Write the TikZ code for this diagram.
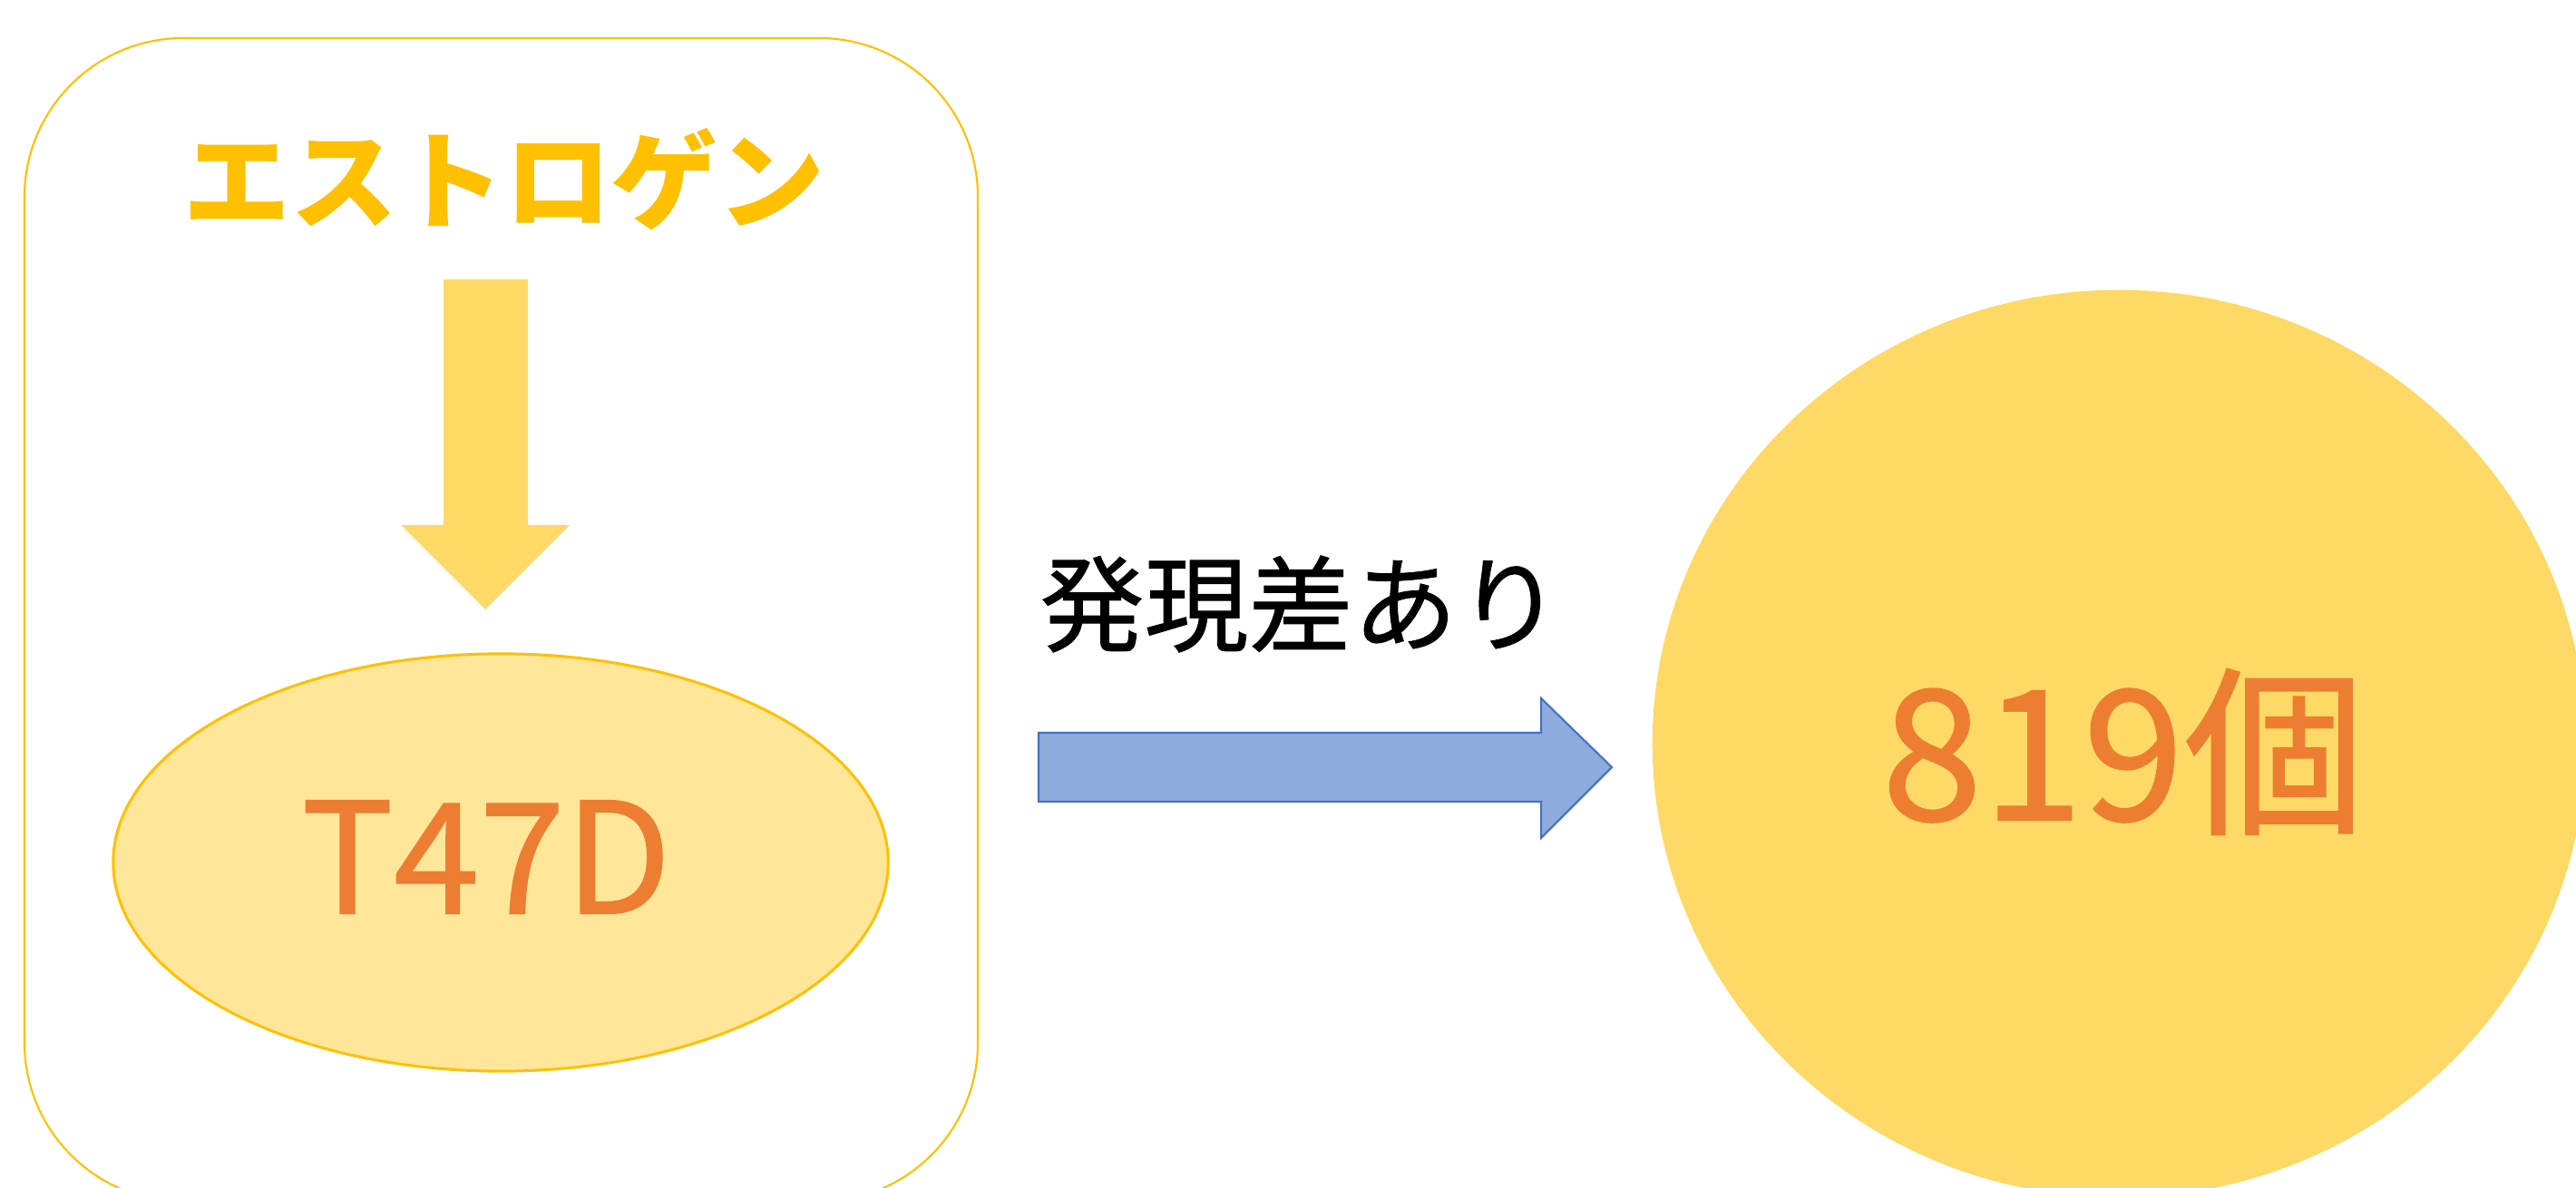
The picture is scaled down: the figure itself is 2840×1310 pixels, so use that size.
\documentclass[tikz,border=0pt]{standalone}
\usepackage{fontspec}
\usetikzlibrary{shapes.geometric}
\setmainfont{Noto Sans CJK JP}
\newfontfamily\medfont{Noto Sans CJK JP}[FakeBold=0.8]
\definecolor{gold}{HTML}{FFC000}
\definecolor{arrowyel}{HTML}{FFD966}
\definecolor{lightyel}{HTML}{FFE699}
\definecolor{orangetxt}{HTML}{ED7D31}
\definecolor{bluefill}{HTML}{8FAADC}
\definecolor{blueline}{HTML}{4472C4}
\tikzset{
  lbl/.style={inner sep=0pt, font=\medfont\fontsize{32.7}{36}\selectfont},
}
\begin{document}
\begin{tikzpicture}[x=0.01cm,y=-0.01cm]
\useasboundingbox (0,0) rectangle (2840,1310);
\clip (0,0) rectangle (2840,1310);
\fill[white] (0,0) rectangle (2840,1310);
% left rounded frame
\draw[gold, line width=0.6pt, rounded corners=1.75cm] (27,42) rectangle (1078,1325);
% estrogen label
\node[inner sep=0pt, text=gold, font=\bfseries\fontsize{33.5}{36}\selectfont] (estro) at (556,198) {エストロゲン};
% down arrow
\fill[arrowyel] (489,308) -- (582,308) -- (582,579) -- (628,579) -- (535,672) -- (442,579) -- (489,579) -- cycle;
% T47D ellipse
\node[draw=gold, fill=lightyel, line width=0.85pt, ellipse, minimum width=8.54cm, minimum height=4.6cm, inner sep=0pt] (cell) at (552,951) {};
\node[inner sep=0pt, text=orangetxt, font=\medfont\fontsize{48.4}{52}\selectfont] (celltxt) at (536,945) {T47D};
% blue arrow
\draw[blueline, fill=bluefill, line width=0.6pt, line join=miter] (1145,808) -- (1699,808) -- (1699,770) -- (1777,846) -- (1699,924) -- (1699,884) -- (1145,884) -- cycle;
\node[lbl, text=black] (diff) at (1434,666) {発現差あり};
% big circle
\node[fill=arrowyel, ellipse, minimum width=10.28cm, minimum height=10cm, inner sep=0pt] (result) at (2336,820) {};
\node[inner sep=0pt, text=orangetxt, font=\medfont\fontsize{56.9}{60}\selectfont] (resulttxt) at (2341,829) {819個};
\end{tikzpicture}
\end{document}
